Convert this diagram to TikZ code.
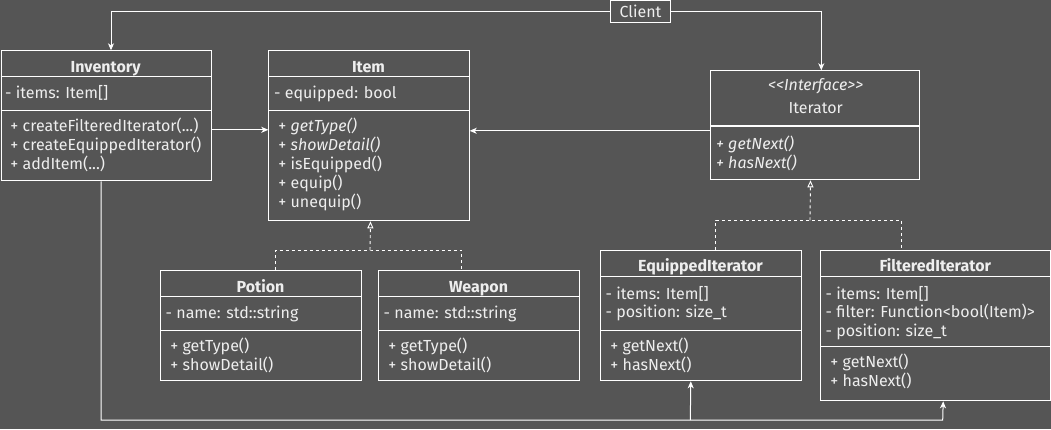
\documentclass[tikz,border=0pt]{standalone}
\usepackage{fontspec}
\setmainfont{Fira Sans}
\usetikzlibrary{arrows.meta}
\definecolor{bg}{HTML}{555555}
\definecolor{fg}{HTML}{EEEEEE}
\newcommand{\fs}{\fontsize{16}{19}\selectfont}
\begin{document}
\begin{tikzpicture}[x=1pt,y=-1pt,
  box/.style={draw=white,line width=1pt,inner sep=0pt,anchor=north west},
  sep/.style={draw=white,line width=1pt},
  txt/.style={text=fg,inner sep=0pt,anchor=base west,font=\fs},
  ttl/.style={text=fg,inner sep=0pt,anchor=base,font=\fs\bfseries},
  arr/.style={draw=white,line width=1pt,-{Stealth[length=7pt,width=6pt,inset=2pt]}},
  real/.style={draw=white,line width=0.9pt,dash pattern=on 3pt off 3pt},
  realtip/.style={real,-{Triangle[open,length=7pt,width=6pt]}}]
\fill[bg] (0,0) rectangle (1051,429);
\useasboundingbox (0,0) rectangle (1051,429);
% Client
\node[draw=white,line width=1pt,inner sep=0pt,minimum width=60pt,minimum height=22pt,text=fg,font=\fs] (client) at (640.5,11.6) {Client};
% Inventory
\node[box,minimum width=210pt,minimum height=130pt] (inv) at (0.5,50.3) {};
\draw[sep] (0.5,76.3) -- (210.7,76.3) (0.5,110) -- (210.7,110);
\node[ttl] (invt) at (105.6,72.7) {Inventory};
\node[txt] (inva) at (5,98.7) {- items: Item[]};
\node[txt] (invm1) at (6,131.7) {\ + createFilteredIterator(...)};
\node[txt] (invm2) at (6,150.7) {\ + createEquippedIterator()};
\node[txt] (invm3) at (6,169.7) {\ + addItem(...)};
% Item
\node[box,minimum width=200.4pt,minimum height=170pt] (item) at (268.3,50.3) {};
\draw[sep] (268.3,76.3) -- (468.7,76.3) (268.3,110) -- (468.7,110);
\node[ttl] (itemt) at (368.5,72.7) {Item};
\node[txt] (itema) at (274,98.7) {- equipped: bool};
\node[txt] (itemm1) at (274,131.7) {\ + \textit{getType()}};
\node[txt] (itemm2) at (274,150.7) {\ + \textit{showDetail()}};
\node[txt] (itemm3) at (274,169.7) {\ + isEquipped()};
\node[txt] (itemm4) at (274,188.7) {\ + equip()};
\node[txt] (itemm5) at (274,207.7) {\ + unequip()};
% Iterator
\node[box,minimum width=209pt,minimum height=109pt] (iter) at (710.3,70.3) {};
\draw[sep,line width=1.7pt] (710.3,125.7) -- (919.3,125.7);
\node[ttl,font=\fs\itshape] (itert1) at (815.7,90) {<{}<Interface>{}>};
\node[ttl,font=\fs] (itert2) at (815.7,113.3) {Iterator};
\node[txt] (iterm1) at (716,149.3) {\textit{+ getNext()}};
\node[txt] (iterm2) at (716,168.7) {\textit{+ hasNext()}};
% Potion
\node[box,minimum width=200.4pt,minimum height=110pt] (potion) at (160.3,270.3) {};
\draw[sep] (160.3,296.3) -- (360.7,296.3) (160.3,330.3) -- (360.7,330.3);
\node[ttl] (pott) at (260.5,292.7) {Potion};
\node[txt] (pota) at (165.5,318.7) {- name: std::string};
\node[txt] (potm1) at (166,351.5) {\ + getType()};
\node[txt] (potm2) at (166,370.5) {\ + showDetail()};
% Weapon
\node[box,minimum width=200.4pt,minimum height=110pt] (weapon) at (378.3,270.3) {};
\draw[sep] (378.3,296.3) -- (578.7,296.3) (378.3,330.3) -- (578.7,330.3);
\node[ttl] (weat) at (478.5,292.7) {Weapon};
\node[txt] (weaa) at (383.5,318.7) {- name: std::string};
\node[txt] (weam1) at (384,351.5) {\ + getType()};
\node[txt] (weam2) at (384,370.5) {\ + showDetail()};
% EquippedIterator
\node[box,minimum width=200.4pt,minimum height=130pt] (equip) at (600.3,250.3) {};
\draw[sep] (600.3,276.3) -- (800.7,276.3) (600.3,330.3) -- (800.7,330.3);
\node[ttl] (eqt) at (700.5,271.7) {EquippedIterator};
\node[txt] (eqa1) at (605.5,299) {- items: Item[]};
\node[txt] (eqa2) at (605.5,317.7) {- position: size\_t};
\node[txt] (eqm1) at (606,351.7) {\ + getNext()};
\node[txt] (eqm2) at (606,370.7) {\ + hasNext()};
% FilteredIterator
\node[box,minimum width=230pt,minimum height=150pt] (filt) at (820.3,250.3) {};
\draw[sep] (820.3,276.3) -- (1050.3,276.3) (820.3,346) -- (1050.3,346);
\node[ttl] (ft) at (935.3,271.7) {FilteredIterator};
\node[txt] (fa1) at (825.5,299) {- items: Item[]};
\node[txt] (fa2) at (825.5,317.7) {- filter: Function<bool(Item)>};
\node[txt] (fa3) at (825.5,336.7) {- position: size\_t};
\node[txt] (fm1) at (826,367.3) {\ + getNext()};
\node[txt] (fm2) at (826,386.3) {\ + hasNext()};
% connectors
\draw[arr] (client.west) -| ([xshift=5pt]inv.north);
\draw[arr] (client.east) -| ([xshift=6pt]iter.north);
\draw[arr] ([yshift=-14pt]inv.east) -- ([yshift=-14pt]inv.east -| item.west);
\draw[arr] ([yshift=-5.5pt]iter.west) -- ([yshift=-5.5pt]iter.west -| item.east);
\coordinate (j1) at (370,250);
\draw[real] ([xshift=14.8pt]potion.north) |- (j1) -| ([xshift=-17.8pt]weapon.north);
\draw[realtip] (j1) -- ([xshift=1.5pt]item.south);
\coordinate (j2) at (810,220.3);
\draw[real] ([xshift=14.8pt]equip.north) |- (j2) -| ([xshift=-34.6pt]filt.north);
\draw[realtip] (j2) -- ([xshift=-4.8pt]iter.south);
\coordinate (bend) at (942.7,420);
\coordinate (b1) at (690.3,420);
\draw[arr] ([xshift=-5pt]inv.south) |- (bend) -- ([xshift=7.4pt]filt.south);
\draw[arr] (b1) -- ([xshift=-10.2pt]equip.south);
\end{tikzpicture}
\end{document}
